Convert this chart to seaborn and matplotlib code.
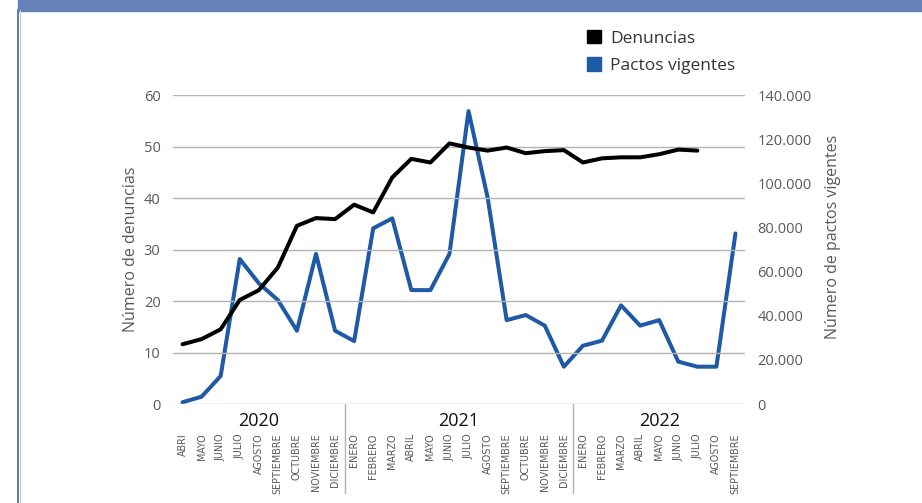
import numpy as np
import pandas as pd
import matplotlib
matplotlib.use("Agg")
import matplotlib.pyplot as plt
from matplotlib.patches import Patch, Rectangle
from matplotlib.lines import Line2D
from matplotlib import font_manager
import seaborn as sns

# Monthly series, April 2020 to September 2022
meses = [
    "ABRI", "MAYO", "JUNIO", "JULIO", "AGOSTO", "SEPTIEMBRE", "OCTUBRE", "NOVIEMBRE", "DICIEMBRE",
    "ENERO", "FEBRERO", "MARZO", "ABRIL", "MAYO", "JUNIO", "JULIO", "AGOSTO", "SEPTIEMBRE",
    "OCTUBRE", "NOVIEMBRE", "DICIEMBRE",
    "ENERO", "FEBRERO", "MARZO", "ABRIL", "MAYO", "JUNIO", "JULIO", "AGOSTO", "SEPTIEMBRE",
]
anios = ["2020", "2021", "2022"]
meses_por_anio = [9, 12, 9]

denuncias = [
    11.6, 12.6, 14.5, 20.2, 22.1, 26.5, 34.6, 36.1, 35.9,
    38.7, 37.2, 44.0, 47.6, 46.9, 50.6, 49.8, 49.2, 49.8, 48.7, 49.1, 49.3,
    46.9, 47.7, 47.9, 47.9, 48.5, 49.4, 49.2, np.nan, np.nan,
]
pactos = [
    800, 3300, 12700, 65700, 54700, 47100, 33200, 68000, 33200,
    28500, 79600, 84100, 51600, 51600, 68000, 132700, 93600, 38000, 40300, 35500, 16900,
    26400, 28700, 44700, 35500, 38000, 19200, 16900, 16900, 77300,
]

NEGRO = "#000000"
AZUL = "#1F5AA6"
GRIS_TXT = "#595959"
GRIS_GRID = "#B3B3B3"

sns.set_theme(style="white")
plt.rcParams["font.family"] = ["Open Sans", "DejaVu Sans"]

# condensed face for the month names when one is available
fuentes = font_manager.fontManager.ttflist
if any(f.name == "Liberation Sans Narrow" for f in fuentes):
    mes_font = dict(family="Liberation Sans Narrow", fontsize=8)
elif any(f.name == "DejaVu Sans" and f.stretch == "condensed" for f in fuentes):
    mes_font = dict(family="DejaVu Sans", fontstretch="condensed", fontsize=7.7)
else:
    mes_font = dict(family="Liberation Sans", fontsize=7.7)

df = pd.DataFrame({"pos": np.arange(len(meses)), "denuncias": denuncias, "pactos": pactos})

W, H = 922, 503
fig = plt.figure(figsize=(W / 100, H / 100), dpi=100)
x0, x1, y0, y1 = 173, 745, 95, 404
ax = fig.add_axes([x0 / W, 1 - y1 / H, (x1 - x0) / W, (y1 - y0) / H])
ax2 = ax.twinx()

sns.lineplot(data=df, x="pos", y="pactos", ax=ax2, color=AZUL, linewidth=2.9, zorder=3)
sns.lineplot(data=df.dropna(), x="pos", y="denuncias", ax=ax, color=NEGRO, linewidth=2.9, zorder=4)
ax.set_zorder(ax2.get_zorder() + 1)
ax.patch.set_visible(False)

ax.set_xlim(-0.5, len(meses) - 0.5)
ax.set_ylim(0, 60)
ax2.set_ylim(0, 140000)
ax.set_yticks(np.arange(0, 61, 10))
ax2.set_yticks(np.arange(0, 140001, 20000))
ax2.set_yticklabels([f"{v:,}".replace(",", ".") for v in np.arange(0, 140001, 20000)])

for a in (ax, ax2):
    for s in a.spines.values():
        s.set_visible(False)
    a.tick_params(axis="y", length=0, labelsize=10.5, colors=GRIS_TXT)
ax.tick_params(axis="y", pad=9)
ax2.tick_params(axis="y", pad=9)
ax.grid(axis="y", color=GRIS_GRID, linewidth=1)
ax.set_axisbelow(True)

ax.set_xticks(np.arange(len(meses)))
ax.set_xticklabels(meses, rotation=90, color=GRIS_TXT, **mes_font)
ax.tick_params(axis="x", length=0, pad=21)

ax.set_xlabel("")
ax2.set_xlabel("")
ax.set_ylabel("Número de denuncias", fontsize=11.5, color=GRIS_TXT)
ax.yaxis.set_label_coords(-34 / (x1 - x0), 0.5)
ax2.set_ylabel("Número de pactos vigentes", fontsize=11.5, color=GRIS_TXT)
ax2.yaxis.set_label_coords(1 + 80 / (x1 - x0), 0.54)

# year groups under the month axis
tr = ax.get_xaxis_transform()
inicio = 0
for anio, n in zip(anios, meses_por_anio):
    centro = inicio + (n - 1) / 2
    ax.text(centro, -17 / (y1 - y0), anio, transform=tr, ha="center", va="center",
            fontsize=13, color="#111111")
    if inicio > 0:
        ax.add_line(Line2D([inicio - 0.5, inicio - 0.5], [0, -89 / (y1 - y0)], transform=tr,
                           color=GRIS_GRID, linewidth=1, clip_on=False))
    inicio += n

# legend in the top-right corner
fig.legend(handles=[Patch(color=NEGRO, label="Denuncias"), Patch(color=AZUL, label="Pactos vigentes")],
           loc="upper left", bbox_to_anchor=(571 / W, 1 - 14 / H), frameon=False,
           fontsize=12.5, handlelength=0.85, handleheight=0.85, handletextpad=0.5,
           labelspacing=0.62, labelcolor="#333333")

# header band and left border
fig.patches.append(Rectangle((18 / W, 1 - 10.5 / H), 1, 10.5 / H, transform=fig.transFigure,
                             color="#6680B8", zorder=0))
fig.lines.append(Line2D([18.2 / W, 18.2 / W], [0, 1 - 10 / H], transform=fig.transFigure,
                        color="#5A7BB6", linewidth=1.4))
fig.lines.append(Line2D([19.6 / W, 19.6 / W], [0, 1 - 10 / H], transform=fig.transFigure,
                        color="#B5CBEC", linewidth=0.8))

fig.savefig("out.png", dpi=100)
